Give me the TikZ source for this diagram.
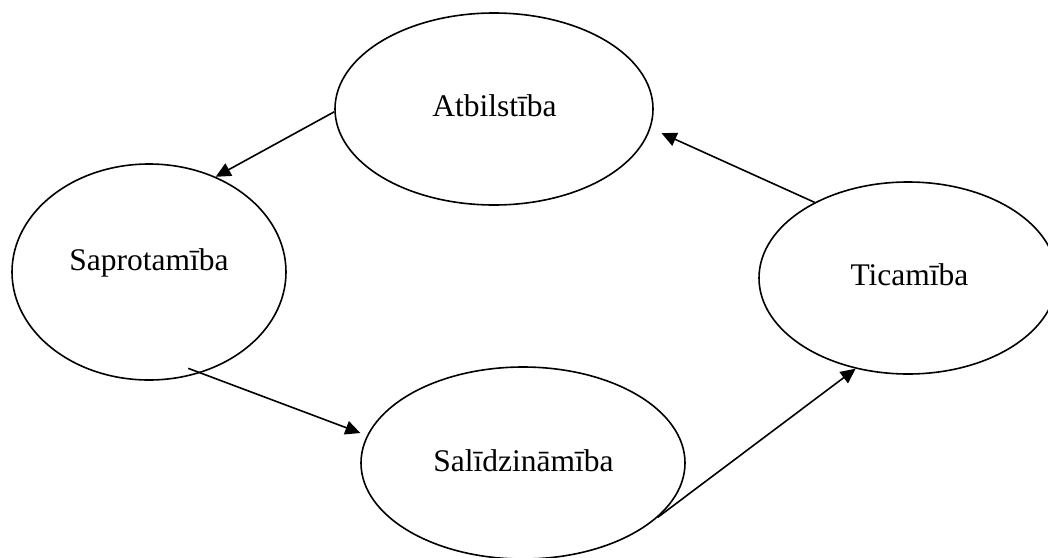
\documentclass[tikz,border=0pt]{standalone}
\usepackage{fontspec}
\setmainfont{Liberation Serif}
\usetikzlibrary{shapes.geometric,arrows.meta}
\tikzset{
  oval/.style={draw=black, line width=1.6pt, ellipse, inner sep=0pt},
  lbl/.style={anchor=base, inner sep=0pt, font=\fontsize{31.5}{36}\selectfont},
  conn/.style={draw=black, line width=1.6pt, -{Triangle[length=15pt,width=14pt]}}
}
\begin{document}
\begin{tikzpicture}[x=1pt,y=-1pt]
\useasboundingbox (0,0) rectangle (1048,557);
\fill[white] (0,0) rectangle (1048,557);
\begin{scope}
\clip (0,0) rectangle (1048,557);
\node[oval, minimum width=318pt, minimum height=192pt] (atb) at (494,109) {};
\node[oval, minimum width=274pt, minimum height=216pt] (sap) at (149,272) {};
\node[oval, minimum width=298pt, minimum height=192pt] (tic) at (908,278) {};
\node[oval, minimum width=324pt, minimum height=192pt] (sal) at (523,463) {};
\end{scope}
\node[lbl] (tatb) at (494.5,116) {Atbilstība};
\node[lbl] (tsap) at (149,270) {Saprotamība};
\node[lbl] (ttic) at (909.5,285) {Ticamība};
\node[lbl] (tsal) at (523.5,471) {Salīdzināmība};
\draw[conn] (atb.181.4) -- (sap.55);
\draw[conn, shorten >=12pt] (tic.141) -- (atb.-7.5);
\draw[conn, shorten <=-13pt, shorten >=7pt] (sap.-63.9) -- (sal.170.6);
\draw[conn] (sal.-22.9) -- (tic.240.9);
\end{tikzpicture}
\end{document}
